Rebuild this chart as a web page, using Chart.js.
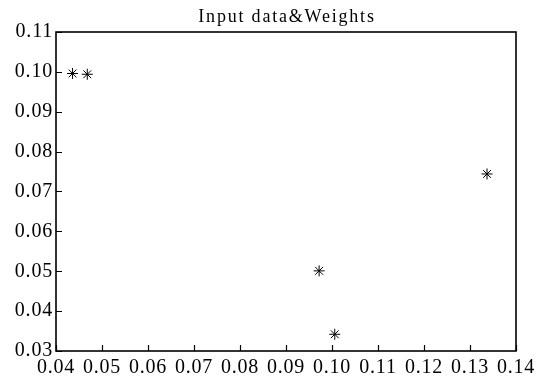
<!DOCTYPE html>
<html>
<head>
<meta charset="utf-8">
<script src="https://cdn.jsdelivr.net/npm/chart.js@4"></script>
<style>
  body{margin:0;background:#fff;}
  #box{width:555px;height:381px;position:relative;}
</style>
</head>
<body>
<div id="box"><canvas id="c"></canvas></div>
<script>
// --- données ---
const xVals=[0.0436,0.0468,0.0972,0.1006,0.1337];
const yVals=[0.0996,0.0994,0.0501,0.0342,0.0744];
const xTicks=[0.04,0.05,0.06,0.07,0.08,0.09,0.10,0.11,0.12,0.13,0.14];
const yTicks=[0.03,0.04,0.05,0.06,0.07,0.08,0.09,0.10,0.11];
const title="Input data&Weights";

const serif="'Liberation Serif','Times New Roman',serif";

// espacement des lettres (le texte de l'original est un peu étiré)
const spacing={
  id:'spacing',
  beforeLayout(chart){ chart.ctx.letterSpacing='0.8px'; },
  beforeDraw(chart){ chart.ctx.letterSpacing='0.8px'; }
};

// cadre + ticks vers l'intérieur + titre
const frame={
  id:'frame',
  afterDraw(chart){
    const {ctx,chartArea:a,scales:{x,y}}=chart;
    ctx.save();
    ctx.strokeStyle='#000';
    ctx.lineWidth=1.6;
    ctx.strokeRect(a.left,a.top,a.right-a.left,a.bottom-a.top);
    ctx.lineWidth=1.2;
    ctx.beginPath();
    xTicks.forEach(v=>{
      const px=Math.round(x.getPixelForValue(v))+0.5;
      ctx.moveTo(px,a.bottom);ctx.lineTo(px,a.bottom-6);
    });
    yTicks.forEach(v=>{
      const py=Math.round(y.getPixelForValue(v))+0.5;
      ctx.moveTo(a.left,py);ctx.lineTo(a.left+6,py);
    });
    ctx.stroke();
    ctx.fillStyle='#000';
    ctx.letterSpacing='1.8px';
    ctx.font='18px '+serif;
    ctx.textAlign='center';
    ctx.textBaseline='alphabetic';
    ctx.fillText(title,(a.left+a.right)/2+1,22);
    ctx.restore();
  }
};

new Chart(document.getElementById('c'),{
  type:'scatter',
  data:{datasets:[{
    data:xVals.map((v,i)=>({x:v,y:yVals[i]})),
    pointStyle:'star',
    radius:5.5,
    borderColor:'#000',
    backgroundColor:'#000',
    borderWidth:1
  }]},
  options:{
    responsive:true,
    maintainAspectRatio:false,
    animation:false,
    layout:{padding:{top:32,right:39,left:0,bottom:0}},
    plugins:{legend:{display:false},tooltip:{enabled:false}},
    scales:{
      x:{
        type:'linear',min:0.04,max:0.14,
        afterBuildTicks(s){ s.ticks=xTicks.map(v=>({value:v})); },
        afterFit(s){ s.height=30; },
        grid:{display:false,drawTicks:false},
        border:{display:false},
        ticks:{color:'#000',padding:5,maxRotation:0,autoSkip:false,
          font:{family:serif,size:20},
          callback:v=>v.toFixed(2)}
      },
      y:{
        type:'linear',min:0.03,max:0.11,
        afterBuildTicks(s){ s.ticks=yTicks.map(v=>({value:v})); },
        afterFit(s){ s.width=56; },
        grid:{display:false,drawTicks:false},
        border:{display:false},
        ticks:{color:'#000',padding:3,autoSkip:false,
          font:{family:serif,size:20},
          callback:v=>v.toFixed(2)}
      }
    }
  },
  plugins:[spacing,frame]
});
</script>
</body>
</html>
